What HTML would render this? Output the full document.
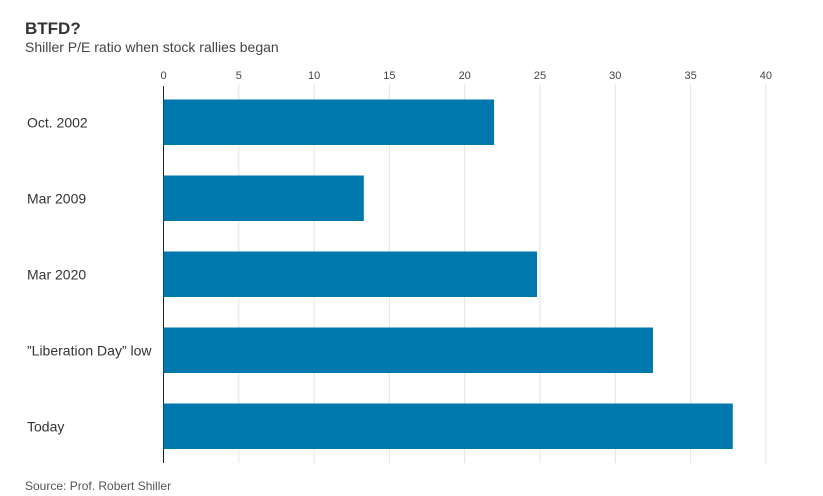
<!DOCTYPE html>
<html><head><meta charset="utf-8"><style>
body{margin:0;background:#fff;}
svg{display:block;font-family:"Liberation Sans",sans-serif;}
</style></head><body>
<svg id="chart" width="823" height="496" viewBox="0 0 823 496">
<text x="25" y="34" font-size="17" font-weight="bold" fill="#333">BTFD?</text>
<text x="25" y="52" font-size="14" fill="#444">Shiller P/E ratio when stock rallies began</text>
<g id="grid"></g><g id="bars"></g><g id="labels"></g>
<text x="25" y="490" font-size="12" fill="#555">Source: Prof. Robert Shiller</text>
</svg>
<script>
const categories=["Oct. 2002","Mar 2009","Mar 2020","\u201DLiberation Day\u201D low","Today"];
const values=[21.95,13.3,24.8,32.5,37.8];
const ticks=[0,5,10,15,20,25,30,35,40];
const NS="http://www.w3.org/2000/svg";
const x0=163.5,pxPer=15.06;
const x=v=>x0+v*pxPer;
const yTop=i=>99.5+i*76;
const barH=45.5;
const grid=document.getElementById('grid'),bars=document.getElementById('bars'),labels=document.getElementById('labels');
function mk(tag,attrs,parent){const e=document.createElementNS(NS,tag);for(const k in attrs)e.setAttribute(k,attrs[k]);parent.appendChild(e);return e;}
ticks.forEach(t=>{
  const l=mk('line',{x1:x(t),x2:x(t),y1:t===0?86:84,y2:463,stroke:t===0?'#222':'#e3e3e3','stroke-width':1},grid);
  
  
  const tx=mk('text',{x:x(t),y:79,'font-size':11,fill:'#444','text-anchor':'middle'},grid);
  
  
  tx.textContent=t;
});
categories.forEach((c,i)=>{
  const r=mk('rect',{x:x(0),y:yTop(i),width:x(values[i])-x(0),height:barH,fill:'#0077ad'},bars);
  
  
  const tx=mk('text',{x:27,y:yTop(i)+barH/2+5,'font-size':14,fill:'#333'},labels);
  
  
  tx.textContent=c;
});
</script>
</body></html>
